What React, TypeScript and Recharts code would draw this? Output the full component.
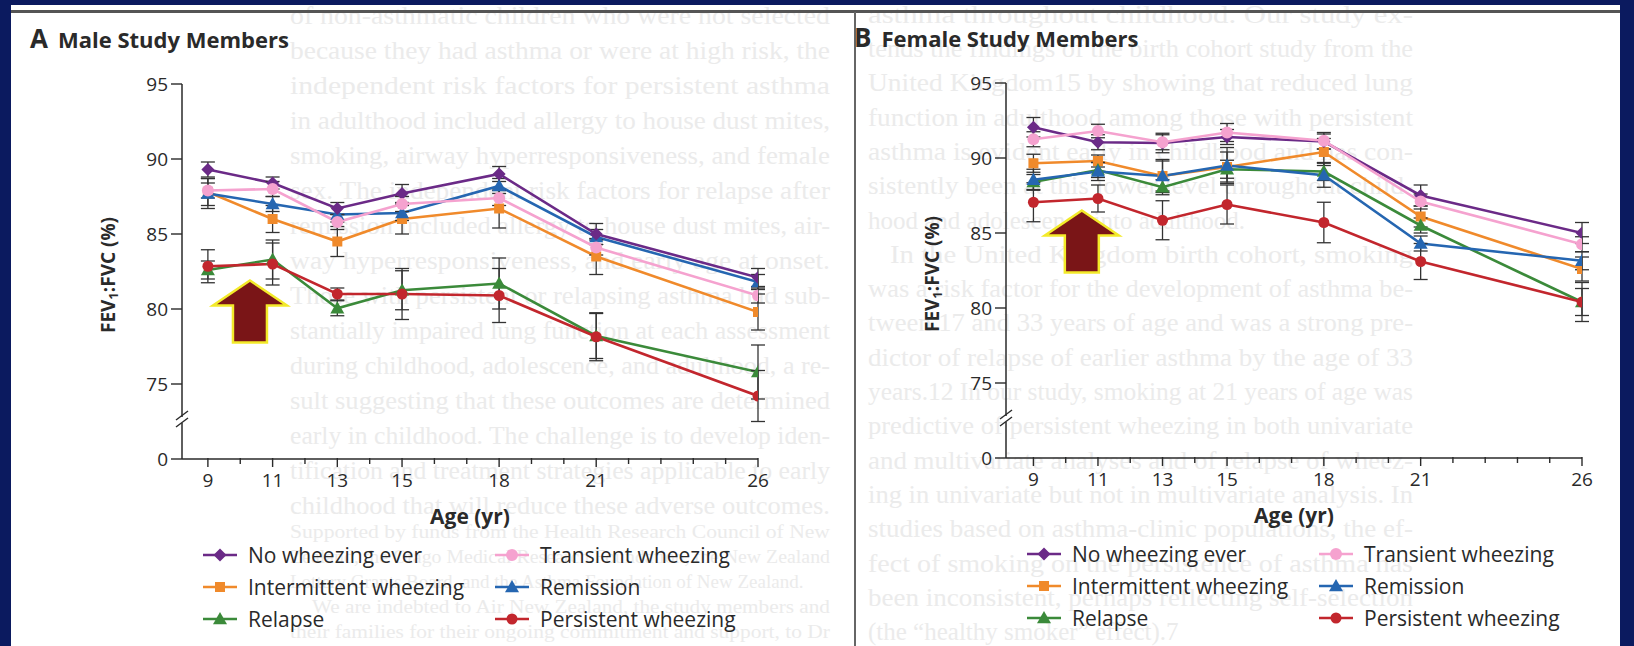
import React from "react";
import { LineChart, Line, XAxis, YAxis, ErrorBar, ReferenceDot } from "recharts";

// ages at which lung function was measured
const AGES = [9, 11, 13, 15, 18, 21, 26];
const X_LABELS = [9, 11, 13, 15, 18, 21, 26];
const X_TICKS = [9, 10, 11, 12, 13, 14, 15, 16, 17, 18, 19, 20, 21, 22, 23, 24, 25, 26];
// the axis is broken below 75; 70 stands in for the "0" tick
const Y_TICKS = [70, 75, 80, 85, 90, 95];
const Y_ZERO = 70;

// Male study members, FEV1:FVC (%) and half-width of the error bar
const maleNoWheeze = [89.3, 88.4, 86.7, 87.7, 89.0, 85.0, 82.1];
const maleNoWheezeErr = [0.5, 0.4, 0.4, 0.6, 0.5, 0.7, 0.6];
const maleTransient = [87.9, 88.0, 85.8, 87.0, 87.4, 84.1, 80.9];
const maleTransientErr = [0.5, 0.5, 0.5, 0.5, 0.5, 0.5, 0.5];
const maleIntermittent = [87.8, 86.0, 84.5, 86.0, 86.7, 83.5, 79.8];
const maleIntermittentErr = [0.9, 0.9, 1.0, 1.0, 1.3, 1.2, 1.2];
const maleRemission = [87.7, 87.0, 86.3, 86.4, 88.2, 84.8, 81.8];
const maleRemissionErr = [1.0, 0.5, 0.5, 0.5, 0.5, 0.5, 0.5];
const maleRelapse = [82.6, 83.3, 80.05, 81.25, 81.7, 78.2, 75.8];
const maleRelapseErr = [0.6, 1.3, 0.5, 1.3, 1.7, 1.5, 1.8];
const malePersistent = [82.85, 83.0, 81.0, 81.0, 80.9, 78.15, 74.2];
const malePersistentErr = [1.1, 1.4, 0.4, 1.7, 1.8, 1.6, 1.7];

// Female study members
const femaleNoWheeze = [92.05, 91.05, 91.0, 91.4, 91.1, 87.5, 85.0];
const femaleNoWheezeErr = [0.65, 0.5, 0.65, 0.5, 0.5, 0.7, 0.7];
const femaleTransient = [91.25, 91.8, 91.05, 91.7, 91.15, 87.1, 84.25];
const femaleTransientErr = [0.5, 0.45, 0.5, 0.6, 0.55, 0.5, 0.5];
const femaleIntermittent = [89.65, 89.8, 88.8, 89.4, 90.4, 86.1, 82.6];
const femaleIntermittentErr = [0.6, 0.4, 1.0, 1.0, 0.9, 0.7, 0.8];
const femaleRemission = [88.55, 89.1, 88.8, 89.5, 88.85, 84.3, 83.15];
const femaleRemissionErr = [0.7, 0.6, 1.1, 1.2, 0.8, 0.5, 0.6];
const femaleRelapse = [88.4, 89.2, 88.05, 89.25, 89.1, 85.5, 80.4];
const femaleRelapseErr = [0.5, 0.5, 0.5, 0.6, 0.6, 0.5, 0.9];
const femalePersistent = [87.05, 87.3, 85.85, 86.9, 85.7, 83.1, 80.4];
const femalePersistentErr = [1.3, 0.9, 1.3, 1.3, 1.35, 1.2, 1.3];

// article text showing faintly through the page behind the figure
const pageTextLeft = [
  "of non-asthmatic children who were not selected",
  "because they had asthma or were at high risk, the",
  "independent risk factors for persistent asthma",
  "in adulthood included allergy to house dust mites,",
  "smoking, airway hyperresponsiveness, and female",
  "sex. The independent risk factors for relapse after",
  "remission included allergy to house dust mites, air-",
  "way hyperresponsiveness, and early age at onset.",
  "Those with persistent or relapsing asthma had sub-",
  "stantially impaired lung function at each assessment",
  "during childhood, adolescence, and adulthood, a re-",
  "sult suggesting that these outcomes are determined",
  "early in childhood. The challenge is to develop iden-",
  "tification and treatment strategies applicable to early",
  "childhood that will reduce these adverse outcomes.",
];
const pageNotesLeft = [
  "Supported by funds from the Health Research Council of New",
  "Zealand, the Otago Medical Research Foundation, the New Zealand",
  "Lottery Grants Board, and the Asthma Foundation of New Zealand.",
  "We are indebted to Air New Zealand, the study members and",
  "their families for their ongoing commitment and support, to Dr",
];
const pageTextRight = [
  "asthma throughout childhood. Our study ex-",
  "tends the findings of the birth cohort study from the",
  "United Kingdom15 by showing that reduced lung",
  "function in adulthood among those with persistent",
  "asthma is evident early in childhood and has con-",
  "sistently been at this lower level throughout child-",
  "hood and adolescence into adulthood.",
  "In the United Kingdom birth cohort, smoking",
  "was a risk factor for the development of asthma be-",
  "tween 17 and 33 years of age and was a strong pre-",
  "dictor of relapse of earlier asthma by the age of 33",
  "years.12 In our study, smoking at 21 years of age was",
  "predictive of persistent wheezing in both univariate",
  "and multivariate analyses and of relapse of wheez-",
  "ing in univariate but not in multivariate analysis. In",
  "studies based on asthma-clinic populations, the ef-",
  "fect of smoking on the persistence of asthma has",
  "been inconsistent, perhaps reflecting self-selection",
  "(the \u201chealthy smoker\u201d effect).7",
];

type Shape = "diamond" | "circle" | "square" | "triangle" | "dot";

const SERIES: { key: string; name: string; color: string; shape: Shape }[] = [
  { key: "intermittent", name: "Intermittent wheezing", color: "#f08a2b", shape: "square" },
  { key: "relapse", name: "Relapse", color: "#3b8a3a", shape: "triangle" },
  { key: "remission", name: "Remission", color: "#2566b1", shape: "triangle" },
  { key: "persistent", name: "Persistent wheezing", color: "#c2262d", shape: "dot" },
  { key: "noWheeze", name: "No wheezing ever", color: "#6b2a87", shape: "diamond" },
  { key: "transient", name: "Transient wheezing", color: "#f5a2cf", shape: "circle" },
];

// legend order, two columns
const LEGEND_ROWS = [
  ["noWheeze", "transient"],
  ["intermittent", "remission"],
  ["relapse", "persistent"],
];

const buildRows = (vals: Record<string, number[]>, errs: Record<string, number[]>) =>
  AGES.map((age, i) => {
    const row: Record<string, number> = { age };
    Object.keys(vals).forEach((k) => {
      row[k] = vals[k][i];
      row[k + "Err"] = errs[k][i];
    });
    return row;
  });

const maleData = buildRows(
  {
    noWheeze: maleNoWheeze,
    transient: maleTransient,
    intermittent: maleIntermittent,
    remission: maleRemission,
    relapse: maleRelapse,
    persistent: malePersistent,
  },
  {
    noWheeze: maleNoWheezeErr,
    transient: maleTransientErr,
    intermittent: maleIntermittentErr,
    remission: maleRemissionErr,
    relapse: maleRelapseErr,
    persistent: malePersistentErr,
  }
);

const femaleData = buildRows(
  {
    noWheeze: femaleNoWheeze,
    transient: femaleTransient,
    intermittent: femaleIntermittent,
    remission: femaleRemission,
    relapse: femaleRelapse,
    persistent: femalePersistent,
  },
  {
    noWheeze: femaleNoWheezeErr,
    transient: femaleTransientErr,
    intermittent: femaleIntermittentErr,
    remission: femaleRemissionErr,
    relapse: femaleRelapseErr,
    persistent: femalePersistentErr,
  }
);

const FONT = "'Open Sans', 'DejaVu Sans', sans-serif";
const SERIF = "'Liberation Serif', 'DejaVu Serif', serif";
const INK = "#2a2a2a";
const NAVY = "#0b1a5f";
const GHOST = "#ebebeb";

const Marker = ({ shape, color, cx, cy }: { shape: Shape; color: string; cx: number; cy: number }) => {
  if (shape === "diamond") {
    const s = 6.5;
    return <path d={`M${cx},${cy - s}L${cx + s},${cy}L${cx},${cy + s}L${cx - s},${cy}Z`} fill={color} />;
  }
  if (shape === "circle") return <circle cx={cx} cy={cy} r={6} fill={color} />;
  if (shape === "dot") return <circle cx={cx} cy={cy} r={5.5} fill={color} />;
  if (shape === "square") return <rect x={cx - 5} y={cy - 5} width={10} height={10} fill={color} />;
  const s = 7;
  return <path d={`M${cx},${cy - s}L${cx + s},${cy + s * 0.75}L${cx - s},${cy + s * 0.75}Z`} fill={color} />;
};

const XTick = (props: any) => {
  const { x, y, payload } = props;
  const major = X_LABELS.includes(payload.value);
  return (
    <g>
      <line x1={x} x2={x} y1={y - 1} y2={y + (major ? 8 : 5)} stroke={INK} strokeWidth={1.4} />
      {major && (
        <text x={x} y={y + 21} dy="0.35em" textAnchor="middle" fill={INK} fontSize={19} fontFamily={FONT}>
          {payload.value}
        </text>
      )}
    </g>
  );
};

const AxisBreak = (props: any) => {
  const { cx, cy } = props;
  return (
    <g>
      <rect x={cx - 3} y={cy - 3} width={6} height={6} fill="#fff" />
      <line x1={cx - 6} y1={cy} x2={cx + 6} y2={cy - 9} stroke={INK} strokeWidth={1.4} />
      <line x1={cx - 6} y1={cy + 7} x2={cx + 6} y2={cy - 2} stroke={INK} strokeWidth={1.4} />
    </g>
  );
};

const Arrow = (props: any) => {
  const { cx, cy } = props;
  const d = `M${cx},${cy} L${cx + 37},${cy + 25} L${cx + 17},${cy + 25} L${cx + 17},${cy + 62} L${cx - 17},${cy + 62} L${cx - 17},${cy + 25} L${cx - 37},${cy + 25} Z`;
  return <path d={d} fill="#7a1517" stroke="#f3ea2a" strokeWidth={2.5} strokeLinejoin="miter" />;
};

type PanelProps = {
  data: Record<string, number>[];
  left: number;
  top: number;
  xMin: number;
  arrow: { age: number; value: number };
  title: [string, string];
};

const Panel = ({ data, left, top, xMin, arrow, title }: PanelProps) => {
  const plotLeft = 182;
  const plotRight = 758;
  const plotTop = 84;
  const plotBottom = 459;
  const W = 800;
  const H = 646;
  return (
    <div style={{ position: "absolute", left, top, width: W, height: H }}>
      <div
        style={{
          position: "absolute",
          left: 30,
          top: 38,
          transform: "translateY(-50%)",
          fontFamily: FONT,
          color: INK,
          whiteSpace: "nowrap",
          lineHeight: 1,
        }}
      >
        <span style={{ fontWeight: 700, fontSize: 26, marginRight: 10 }}>{title[0]}</span>
        <span style={{ fontWeight: 700, fontSize: 22 }}>{title[1]}</span>
      </div>
      <LineChart
        width={W}
        height={H}
        data={data}
        margin={{ top: plotTop, right: W - plotRight, bottom: H - plotBottom - 30, left: plotLeft - 60 }}
      >
        <XAxis
          dataKey="age"
          type="number"
          domain={[xMin, 26]}
          ticks={X_TICKS}
          interval={0}
          height={30}
          tickSize={0}
          tickMargin={0}
          tickLine={false}
          tick={<XTick />}
          axisLine={{ stroke: INK, strokeWidth: 1.5 }}
          allowDataOverflow
        />
        <YAxis
          type="number"
          domain={[Y_ZERO, 95]}
          ticks={Y_TICKS}
          interval={0}
          width={60}
          tickSize={11}
          tickMargin={3}
          tickFormatter={(v: number) => (v === Y_ZERO ? "0" : String(v))}
          tick={{ fill: INK, fontSize: 19, fontFamily: FONT }}
          tickLine={{ stroke: INK, strokeWidth: 1.4 }}
          axisLine={{ stroke: INK, strokeWidth: 1.5 }}
          allowDataOverflow
        />
        {SERIES.map((s) => (
          <Line
            key={s.key}
            dataKey={s.key}
            name={s.name}
            stroke={s.color}
            strokeWidth={2.6}
            isAnimationActive={false}
            dot={(p: any) => <Marker key={`${s.key}-${p.index}`} shape={s.shape} color={s.color} cx={p.cx} cy={p.cy} />}
            activeDot={false}
          >
            <ErrorBar dataKey={s.key + "Err"} width={7} stroke="#333" strokeWidth={1.3} direction="y" isAnimationActive={false} />
          </Line>
        ))}
        <ReferenceDot x={xMin} y={72.6} r={0} shape={<AxisBreak />} ifOverflow="visible" />
        <ReferenceDot x={arrow.age} y={arrow.value} r={0} shape={<Arrow />} ifOverflow="visible" />
      </LineChart>
      {/* y axis title */}
      <div
        style={{
          position: "absolute",
          left: 108,
          top: 275,
          transform: "translate(-50%, -50%) rotate(-90deg)",
          fontFamily: FONT,
          fontWeight: 700,
          fontSize: 19,
          color: INK,
          whiteSpace: "nowrap",
        }}
      >
        FEV<sub style={{ fontSize: 13, verticalAlign: "-3px" }}>1</sub>:FVC (%)
      </div>
      <div
        style={{
          position: "absolute",
          left: 470,
          top: 516,
          transform: "translate(-50%, -50%)",
          fontFamily: FONT,
          fontWeight: 700,
          fontSize: 21,
          color: INK,
          whiteSpace: "nowrap",
        }}
      >
        Age (yr)
      </div>
      {/* legend */}
      {LEGEND_ROWS.map((row, r) =>
        row.map((key, c) => {
          const s = SERIES.find((q) => q.key === key)!;
          return (
            <div
              key={key}
              style={{
                position: "absolute",
                left: c === 0 ? 203 : 495,
                top: 555 + r * 32 - 14,
                height: 28,
                display: "flex",
                alignItems: "center",
                fontFamily: FONT,
                fontSize: 21,
                color: INK,
                whiteSpace: "nowrap",
              }}
            >
              <svg width={34} height={16} style={{ marginRight: 11 }}>
                <line x1={0} x2={34} y1={8} y2={8} stroke={s.color} strokeWidth={2.6} />
                <Marker shape={s.shape} color={s.color} cx={17} cy={8} />
              </svg>
              {s.name}
            </div>
          );
        })
      )}
    </div>
  );
};

// faint page text behind the figure, justified columns
const GhostColumn = ({ lines, x, width, y0, step, size, lastLines }: any) => (
  <>
    {lines.map((t: string, i: number) => {
      const indent = lastLines.includes(i - 1) ? 22 : 0;
      const justify = !lastLines.includes(i);
      return (
        <text
          key={i}
          x={x + indent}
          y={y0 + step * i}
          dy="0.35em"
          fontFamily={SERIF}
          fontSize={size}
          fill={GHOST}
          {...(justify ? { textLength: width - indent, lengthAdjust: "spacingAndGlyphs" } : {})}
        >
          {t}
        </text>
      );
    })}
  </>
);

export default function App() {
  return (
    <div style={{ position: "absolute", left: 0, top: 0, width: 1634, height: 646, background: NAVY, overflow: "hidden" }}>
      <div style={{ position: "absolute", left: 11, top: 5, width: 1609, height: 641, background: "#fff" }} />
      <svg width={1634} height={646} style={{ position: "absolute", left: 0, top: 0 }}>
        <GhostColumn lines={pageTextLeft} x={290} width={540} y0={15} step={35} size={25} lastLines={[]} />
        <GhostColumn lines={pageNotesLeft} x={290} width={540} y0={531} step={25} size={19} lastLines={[2]} />
        <GhostColumn lines={pageTextRight} x={868} width={545} y0={14} step={34.3} size={25} lastLines={[6, 18]} />
      </svg>
      <div style={{ position: "absolute", left: 11, top: 10, width: 1609, height: 3, background: "#555" }} />
      <div style={{ position: "absolute", left: 854, top: 12, width: 2, height: 634, background: "#666" }} />
      <Panel
        data={maleData}
        left={0}
        top={0}
        xMin={8.2}
        arrow={{ age: 10.3, value: 81.9 }}
        title={["A", "Male Study Members"]}
      />
      <Panel
        data={femaleData}
        left={824}
        top={-1}
        xMin={8.15}
        arrow={{ age: 10.5, value: 86.5 }}
        title={["B", "Female Study Members"]}
      />
    </div>
  );
}
